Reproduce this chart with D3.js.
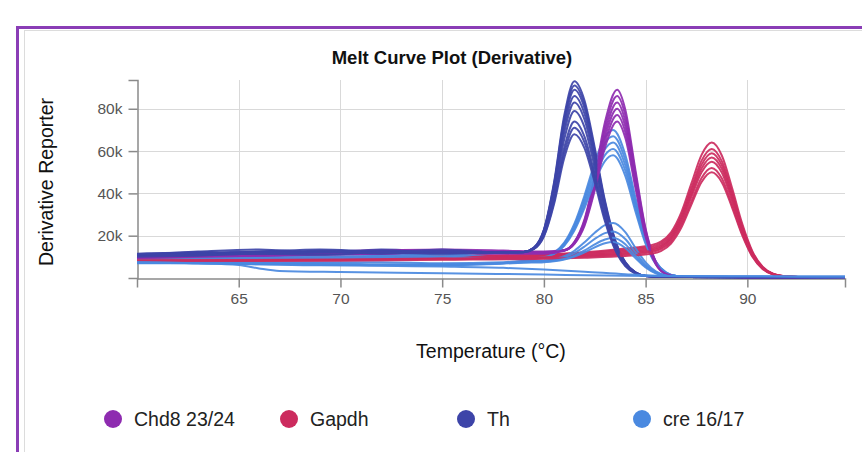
<!DOCTYPE html>
<html><head><meta charset="utf-8">
<script src="https://cdn.jsdelivr.net/npm/d3@7"></script>
<style>
body{margin:0;background:#fff;}
svg{display:block;font-family:"Liberation Sans",Arial,Helvetica,sans-serif;}
</style>
</head><body>
<svg id="chart" width="862" height="452"></svg>
<script>
// ---------- DATA (values in thousands of derivative reporter units) ----------
const categories = ["Chd8 23/24", "Gapdh", "Th", "cre 16/17"];
const colors = ["#8e2bb0", "#cc2b5e", "#3d44a8", "#4a89e0"];
const xTicks = [65, 70, 75, 80, 85, 90];
const yTicks = [20, 40, 60, 80];
const yTickLabels = ["20k", "40k", "60k", "80k"];

const chd8Temps = [60,63,66,69,72,75,78,80,81,81.5,82,82.5,83,83.6,84,84.5,85,85.5,86,86.5,87,90,94.8];
const chd8Values = [
  [10.5,11.0,11.5,12.5,13.0,13.5,13.0,12.5,13.2,17.1,27.9,48.5,73.6,89,79.7,51.0,23.3,7.8,2.1,0.8,0.5,0.4,0.3],
  [10.0,10.5,11.5,12.0,12.5,12.5,12.5,12.0,13.1,16.9,27.2,47.1,71.2,86,77.0,49.3,22.6,7.5,2.0,0.8,0.5,0.4,0.3],
  [10.5,11.0,11.0,11.5,12.0,13.0,12.0,12.0,13.1,16.7,26.6,45.7,68.8,83,74.3,47.6,21.8,7.3,2.0,0.7,0.5,0.4,0.3],
  [9.5,10.5,11.0,11.5,12.5,12.0,12.5,12.0,13.0,16.5,26.0,44.2,66.4,80,71.7,45.9,21.0,7.0,1.9,0.7,0.5,0.4,0.3],
  [10.0,10.5,10.5,11.5,11.5,12.5,12.0,12.0,13.0,16.3,25.4,42.8,64.0,77,69.0,44.2,20.2,6.8,1.9,0.7,0.5,0.4,0.3],
  [9.5,10.0,10.5,11.0,11.5,12.0,11.5,11.5,12.9,16.1,24.8,41.4,61.6,74,66.3,42.5,19.5,6.5,1.8,0.7,0.5,0.4,0.3]
];

const thTemps = [60,63,66,69,72,75,78,79,79.5,80,80.5,81,81.5,82,82.5,83,83.5,84,84.5,85,86,90,94.8];
const thValues = [
  [11.0,12.5,13.5,12.0,13.5,12.5,12.0,12.3,14.3,22.9,45.3,76.8,93,83.8,61.6,36.6,18.1,7.5,2.7,1.1,0.5,0.4,0.3],
  [10.5,12.0,12.5,13.5,12.5,13.0,12.0,12.3,14.3,22.7,44.5,75.2,91,82.0,60.2,35.8,17.7,7.4,2.7,1.0,0.5,0.4,0.3],
  [10.5,11.5,12.0,12.5,12.0,13.5,12.0,12.3,14.2,22.4,43.6,73.6,89,80.2,58.9,35.0,17.3,7.2,2.6,1.0,0.5,0.4,0.3],
  [11.5,12.0,11.5,13.0,12.5,12.0,12.0,12.3,14.1,22.0,42.4,71.2,86,77.5,56.9,33.8,16.7,7.0,2.6,1.0,0.5,0.4,0.3],
  [10.0,11.0,12.5,11.5,13.0,12.0,12.0,12.3,14.1,21.6,41.2,68.8,83,74.8,55.0,32.7,16.2,6.8,2.5,1.0,0.5,0.4,0.3],
  [10.5,12.0,11.0,12.0,12.0,13.0,12.0,12.3,13.9,21.0,39.5,65.6,79,71.2,52.3,31.1,15.4,6.5,2.4,1.0,0.5,0.4,0.3],
  [11.0,11.5,12.0,12.5,11.5,12.5,12.0,12.2,13.8,20.4,37.5,61.6,74,66.7,49.0,29.2,14.5,6.1,2.3,0.9,0.5,0.4,0.3],
  [11.0,11.0,12.0,12.0,13.0,12.0,12.0,12.2,13.7,20.0,36.2,59.2,71,64.0,47.0,28.0,13.9,5.9,2.2,0.9,0.5,0.4,0.3],
  [10.0,10.5,11.5,11.0,12.0,11.5,12.0,12.2,13.6,19.6,35.0,56.8,68,61.3,45.1,26.8,13.3,5.6,2.1,0.9,0.5,0.4,0.3]
];

const creTemps = [60,63,66,69,72,75,78,79,80,80.5,81,81.5,82,82.5,83,83.4,84,84.5,85,85.5,86,86.5,87,90,94.8];
const creValues = [
  [10.0,10.5,11.5,11.0,11.5,12.5,10.0,9.1,10.0,11.9,16.7,25.7,39.1,54.6,66.6,70,58.3,38.0,19.3,7.8,2.7,1.0,0.6,0.5,0.4],
  [9.5,10.0,10.5,11.5,11.0,11.5,9.5,9.1,9.9,11.8,16.3,24.8,37.7,52.3,63.8,67,55.8,36.3,18.5,7.5,2.6,1.0,0.6,0.5,0.4],
  [9.0,9.5,10.0,10.0,10.5,11.0,9.5,9.1,9.9,11.6,15.9,24.0,36.2,50.1,60.9,64,53.3,34.7,17.7,7.2,2.5,0.9,0.6,0.5,0.4],
  [8.5,9.0,9.5,9.5,10.0,10.0,9.0,9.1,9.8,11.5,15.6,23.2,34.7,47.8,58.1,61,50.8,33.1,16.9,6.9,2.4,0.9,0.6,0.5,0.4],
  [8.5,9.0,9.0,9.5,9.5,10.0,9.0,9.0,9.8,11.4,15.2,22.4,33.2,45.6,55.3,58,48.3,31.5,16.1,6.5,2.3,0.9,0.6,0.5,0.4],
  [8.0,8.0,7.5,7.5,7.5,7.0,7.5,8.0,8.3,8.9,10.3,12.9,16.9,21.4,25.0,26,21.7,14.2,7.4,3.2,1.3,0.7,0.5,0.5,0.4],
  [7.5,7.5,7.0,7.0,6.5,6.5,7.0,8.0,8.2,8.7,9.8,11.8,14.9,18.5,21.2,22,18.4,12.1,6.3,2.8,1.2,0.7,0.5,0.5,0.4],
  [7.5,7.0,6.5,6.5,6.0,6.0,7.0,7.5,7.8,8.2,9.0,10.6,13.0,15.9,18.2,19,15.9,10.5,5.5,2.4,1.1,0.6,0.5,0.5,0.4],
  [7.0,7.0,6.5,6.0,6.0,6.0,6.8,7.2,7.5,7.9,8.7,10.1,12.1,14.5,16.4,17,14.2,9.4,5.0,2.2,1.0,0.6,0.5,0.5,0.4]
];
const creFlatTempsA = [60,63,65,66,67,70,75,80,85,90,94.8];
const creFlatValuesA = [7.5,7.0,6.2,4.5,3.3,2.8,2.3,1.6,1.0,0.8,0.7];
const creFlatTempsB = [60,63,66,69,72,75,78,80,82,84,86,90,94.8];
const creFlatValuesB = [7.2,7.0,6.8,6.2,5.8,5.4,4.8,4.0,3.0,1.8,1.0,0.8,0.7];

const gapdhTemps = [60,65,70,75,80,82,84,85.25,85.75,86.25,86.75,87.25,87.75,88.25,88.75,89.25,89.75,90.25,90.75,91.25,91.75,92.5,94.8];
const gapdhValues = [
  [9.5,9.6,9.9,10.4,11.2,12.2,14.0,15.5,17.2,21.6,30.9,44.7,58.2,64,57.8,42.5,25.6,12.6,5.3,2.0,0.9,0.5,0.4],
  [9.2,9.3,9.6,10.1,10.9,11.8,13.4,14.8,16.4,20.6,29.5,42.6,55.5,61,55.1,40.6,24.4,12.1,5.1,2.0,0.9,0.5,0.4],
  [9.0,9.1,9.4,9.8,10.5,11.3,12.8,14.1,15.6,19.7,28.4,41.2,53.6,59,53.3,39.3,23.6,11.7,4.9,1.9,0.9,0.5,0.4],
  [8.7,8.8,9.1,9.5,10.2,10.9,12.2,13.5,14.9,18.9,27.3,39.7,51.8,57,51.5,37.9,22.8,11.3,4.8,1.9,0.8,0.5,0.4],
  [8.4,8.5,8.8,9.2,9.8,10.5,11.6,12.9,14.3,18.2,26.2,38.3,50.0,55,49.7,36.6,22.0,10.9,4.6,1.8,0.8,0.5,0.4],
  [8.2,8.3,8.5,8.9,9.5,10.1,11.1,12.2,13.6,17.2,24.9,36.2,47.3,52,47.0,34.6,20.8,10.3,4.4,1.7,0.8,0.5,0.4],
  [7.9,8.0,8.2,8.6,9.1,9.6,10.4,11.4,12.7,16.3,23.7,34.7,45.4,50,45.2,33.3,20.1,10.0,4.3,1.7,0.8,0.5,0.4]
];

// ---------- BUILD SERIES ----------
function rows(temps, vals, color) {
  return vals.map(v => ({ color, points: temps.map((t, i) => [t, v[i]]) }));
}
const groups = [
  rows(creTemps, creValues, colors[3]).concat([
    { color: colors[3], points: creFlatTempsA.map((t, i) => [t, creFlatValuesA[i]]) },
    { color: colors[3], points: creFlatTempsB.map((t, i) => [t, creFlatValuesB[i]]) }
  ]),
  rows(thTemps, thValues, colors[2]),
  rows(chd8Temps, chd8Values, colors[0]),
  rows(gapdhTemps, gapdhValues, colors[1])
];
const series = [];
const maxLen = d3.max(groups, g => g.length);
for (let i = 0; i < maxLen; i++) groups.forEach(g => { if (g[i]) series.push(g[i]); });

// ---------- CHART ----------
const svg = d3.select("#chart");
svg.append("rect").attr("x", 24.5).attr("y", 30.5).attr("width", 900).attr("height", 500)
  .attr("fill", "none").attr("stroke", "#dcdcdc").attr("stroke-width", 1);
svg.append("rect").attr("x", 17.5).attr("y", 27.5).attr("width", 900).attr("height", 500)
  .attr("fill", "none").attr("stroke", "#8a3db6").attr("stroke-width", 3);

const x = d3.scaleLinear().domain([60, 94.8]).range([137, 845]);
const y = d3.scaleLinear().domain([0, 93.6]).range([278, 80]);

// grid
const grid = svg.append("g").attr("stroke", "#d9d9d9").attr("stroke-width", 1);
grid.selectAll("line.v").data(xTicks).join("line").attr("class", "v")
  .attr("x1", d => Math.round(x(d)) + 0.5).attr("x2", d => Math.round(x(d)) + 0.5)
  .attr("y1", y(93.6)).attr("y2", y(0));
grid.selectAll("line.h").data(yTicks).join("line").attr("class", "h")
  .attr("x1", x(60)).attr("x2", x(94.8))
  .attr("y1", d => Math.round(y(d)) + 0.5).attr("y2", d => Math.round(y(d)) + 0.5);

// axes
const xAxis = svg.append("g").attr("transform", "translate(0,278.5)")
  .call(d3.axisBottom(x).tickValues(xTicks).tickSize(9).tickSizeOuter(9).tickPadding(5).tickFormat(d => d));
const yAxis = svg.append("g").attr("transform", "translate(137.5,0)")
  .call(d3.axisLeft(y).tickValues(yTicks).tickSize(9).tickSizeOuter(9).tickPadding(6)
    .tickFormat((d, i) => yTickLabels[i]));
[xAxis, yAxis].forEach(a => {
  a.select(".domain").attr("stroke", "#8a8a8a").attr("stroke-width", 1.5);
  a.selectAll(".tick line").attr("stroke", "#8a8a8a").attr("stroke-width", 1.5);
  a.selectAll(".tick text").attr("fill", "#555").attr("font-size", "15.5px")
    .attr("font-family", '"Liberation Sans",Arial,sans-serif');
});

// lines
const line = d3.line().x(d => x(d[0])).y(d => y(d[1])).curve(d3.curveMonotoneX);
svg.append("g").selectAll("path").data(series).join("path")
  .attr("d", d => line(d.points))
  .attr("fill", "none").attr("stroke", d => d.color)
  .attr("stroke-width", 2).attr("stroke-opacity", 0.92).attr("stroke-linejoin", "round");

// titles
svg.append("text").attr("x", 452).attr("y", 64).attr("text-anchor", "middle")
  .attr("font-size", "18.5px").attr("font-weight", "bold").attr("fill", "#111")
  .text("Melt Curve Plot (Derivative)");
svg.append("text").attr("x", 491).attr("y", 358).attr("text-anchor", "middle")
  .attr("font-size", "19.5px").attr("fill", "#111").text("Temperature (°C)");
svg.append("text").attr("transform", "translate(53,182) rotate(-90)").attr("text-anchor", "middle")
  .attr("font-size", "19.5px").attr("fill", "#111").text("Derivative Reporter");

// legend
const legendX = [113, 289, 466, 642];
const lg = svg.append("g").selectAll("g").data(categories).join("g")
  .attr("transform", (d, i) => `translate(${legendX[i]},419)`);
lg.append("circle").attr("r", 9).attr("fill", (d, i) => colors[i]);
lg.append("text").attr("x", 21).attr("y", 7).attr("font-size", "19.5px").attr("fill", "#222").text(d => d);
</script>
</body></html>
